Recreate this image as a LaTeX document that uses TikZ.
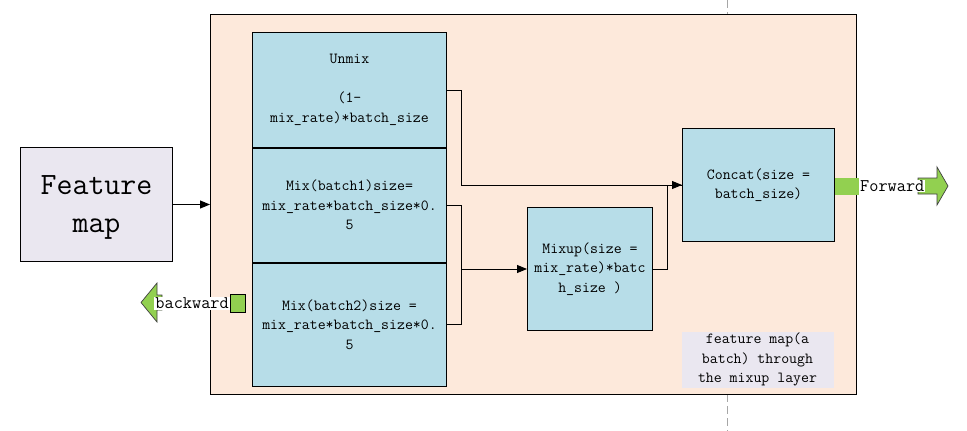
\documentclass[tikz,border=0pt]{standalone}
\usepackage{fontspec}
\usetikzlibrary{arrows.meta}

\definecolor{panelbg}{HTML}{FDE9DB}
\definecolor{stagebg}{HTML}{B7DDE8}
\definecolor{notebg}{HTML}{EAE7F0}
\definecolor{portgreen}{HTML}{92D050}

\newcommand{\stagefont}{\ttfamily\fontsize{15.4}{19.5}\selectfont}
\newcommand{\portfont}{\ttfamily\fontsize{17.8}{20}\selectfont}
\newcommand{\titlefont}{\ttfamily\fontsize{31}{38}\selectfont}

\begin{document}
\begin{tikzpicture}[x=1pt,y=-1pt,
  frame/.style={rectangle, inner sep=0pt, anchor=north west, line width=1pt},
  stagebox/.style={frame, draw, fill=stagebg, align=center, font=\stagefont},
  link/.style={line width=1pt},
  tip/.style={-{Triangle[length=10pt,width=8pt]}},
  guide/.style={gray!70, line width=1pt, dash pattern=on 8pt off 4pt},
  portarrow/.style={fill=portgreen, draw=black!75, line width=0.7pt, line join=miter},
  portlabel/.style={fill=white, inner sep=1pt, font=\portfont}
]
\useasboundingbox (0,0) rectangle (967,431);

% vertical guide line
\draw[guide] (727,0) -- (727,14);
\draw[guide] (727,394) -- (727,431);

% layer panel
\node[frame, draw, fill=panelbg, minimum width=646, minimum height=380] (panel) at (210,14) {};

% input
\node[frame, draw, fill=notebg, minimum width=152, minimum height=114] (feat) at (20,147) {};
\node[align=center, font=\titlefont, yshift=-3pt] (feattext) at (feat.center) {Feature\\map};

% split of the batch
\node[stagebox, minimum width=194, minimum height=115] (unmix) at (252,32)
  {Unmix\\[19.5pt](1-\\mix\_rate)*batch\_size};
\node[stagebox, minimum width=194, minimum height=115] (mix1) at (252,147)
  {Mix(batch1)size=\\mix\_rate*batch\_size*0.\\5};
\node[stagebox, minimum width=194, minimum height=124] (mix2) at (252,262)
  {Mix(batch2)size =\\mix\_rate*batch\_size*0.\\5};
\draw[line width=2pt] (unmix.south west) -- (unmix.south east);
\draw[line width=2pt] (mix1.south west) -- (mix1.south east);

% mixup and concat
\node[stagebox, minimum width=125, minimum height=123] (mixup) at (527,207)
  {Mixup(size =\\mix\_rate)*batc\\h\_size )};
\node[stagebox, minimum width=152, minimum height=113] (concat) at (682,128)
  {Concat(size =\\batch\_size)};

% note
\node[frame, fill=notebg, minimum width=152, minimum height=56,
      align=center, font=\stagefont] (note) at (681,331)
  {feature map(a\\batch) through\\the mixup layer};

% connectors
\draw[link, tip] (feat.east) -- (feat.east -| panel.west);
\draw[link, tip] (unmix.east) -- ++(14,0) |- (concat.west);
\draw[link] (mix1.east) -- ++(14,0) coordinate (j1) -- (j1 |- mix2.east) -- (mix2.east);
\draw[link, tip] (j1 |- mixup.west) -- (mixup.west);
\draw[link] (mixup.east) -- ++(14,0) |- (concat.west);

% forward output
\node[frame, fill=portgreen, minimum width=24, minimum height=17] (fwdport) at (834,177) {};
\draw[portarrow] (918,178) -- (937,178) -- (937,167) -- (948,186) -- (937,205) -- (937,194) -- (918,194) -- cycle;
\node[portlabel, anchor=west] (fwdlabel) at (fwdport.east) {Forward};

% backward input
\node[frame, draw, fill=portgreen, minimum width=15, minimum height=18, line width=0.7pt] (bwdport) at (230,294) {};
\draw[portarrow] (141,302.5) -- (157,283) -- (157,295) -- (162,295) -- (162,310) -- (157,310) -- (157,322) -- cycle;
\node[portlabel, anchor=east] (bwdlabel) at (bwdport.west) {backward};
\end{tikzpicture}
\end{document}
